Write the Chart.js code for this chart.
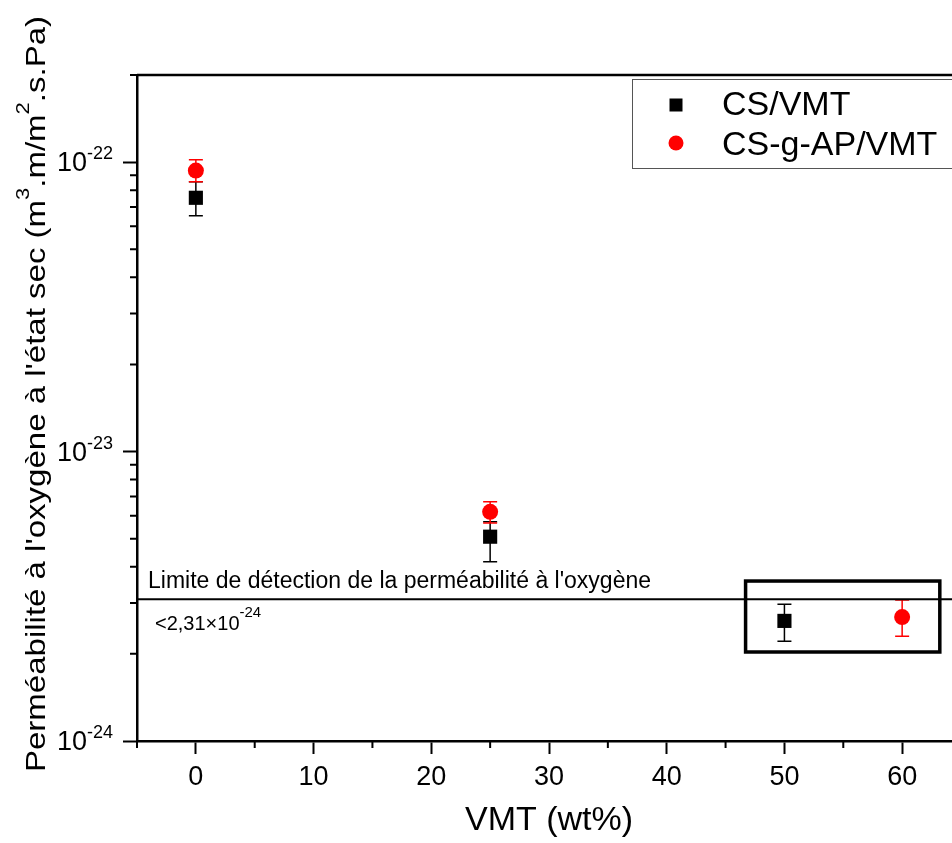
<!DOCTYPE html>
<html>
<head>
<meta charset="utf-8">
<title>Perméabilité à l'oxygène</title>
<script src="https://cdn.jsdelivr.net/npm/chart.js@4/dist/chart.umd.min.js"></script>
<style>
    html, body { margin: 0; padding: 0; background: #ffffff; overflow: hidden; }
    #wrap { position: relative; width: 952px; height: 843px; overflow: hidden; }
    canvas { display: block; }
</style>
</head>
<body>
<div id="wrap"><canvas id="perme_chart" width="975" height="843"></canvas></div>
<script>
// valeurs
const csVmtX = [0, 25, 50];
const csVmtY = [7.53e-23, 5.08e-24, 2.60e-24];
const csVmtHigh = [8.56e-23, 5.72e-24, 2.97e-24];
const csVmtLow = [6.53e-23, 4.16e-24, 2.21e-24];

const csgApX = [0, 25, 60];
const csgApY = [9.35e-23, 6.19e-24, 2.68e-24];
const csgApHigh = [1.02e-22, 6.71e-24, 3.07e-24];
const csgApLow = [8.56e-23, 5.67e-24, 2.30e-24];

const xTickValues = [0, 10, 20, 30, 40, 50, 60];
const xMinorValues = [-5, 5, 15, 25, 35, 45, 55, 65];
const yDecades = [1e-24, 1e-23, 1e-22];
const yDecadeLabels = [['10', '-24'], ['10', '-23'], ['10', '-22']];

const detectionLimit = 3.09e-24;
const detectionText = "Limite de détection de la perméabilité à l'oxygène";
const detectionValue = ['<2,31×10', '-24'];
const boxX = [46.7, 63.2];
const boxY = [2.03e-24, 3.57e-24];

const FONT = "'Liberation Sans', Arial, sans-serif";

// texte avec exposants : runs = [[texte, exposant?], ...]
function drawRuns(c, runs, x, y, size, supSize, raise, align) {
    let total = 0;
    const widths = runs.map(r => {
        c.font = (r[1] ? supSize : size) + 'px ' + FONT;
        const w = c.measureText(r[0]).width;
        total += w;
        return w;
    });
    let cx = x;
    if (align === 'center') cx = x - total / 2;
    if (align === 'right') cx = x - total;
    c.textAlign = 'left';
    c.textBaseline = 'alphabetic';
    runs.forEach((r, i) => {
        c.font = (r[1] ? supSize : size) + 'px ' + FONT;
        c.fillText(r[0], cx, r[1] ? y - raise : y);
        cx += widths[i];
    });
}

const decorations = {
    id: 'decorations',
    beforeDatasetsDraw(chart) {
        const c = chart.ctx;
        const xs = chart.scales.x, ys = chart.scales.y;
        chart.data.datasets.forEach(ds => {
            c.save();
            c.strokeStyle = ds.errColor;
            c.lineWidth = 1.5;
            ds.data.forEach((p, i) => {
                const px = xs.getPixelForValue(p.x);
                const top = ys.getPixelForValue(ds.errHigh[i]);
                const bot = ys.getPixelForValue(ds.errLow[i]);
                c.beginPath();
                c.moveTo(px, top); c.lineTo(px, bot);
                c.moveTo(px - 7, top); c.lineTo(px + 7, top);
                c.moveTo(px - 7, bot); c.lineTo(px + 7, bot);
                c.stroke();
            });
            c.restore();
        });
    },
    afterDraw(chart) {
        const c = chart.ctx;
        const a = chart.chartArea;
        const xs = chart.scales.x, ys = chart.scales.y;
        c.save();
        c.fillStyle = '#000';
        c.strokeStyle = '#000';

        // cadre haut
        c.lineWidth = 2.5;
        c.beginPath();
        c.moveTo(a.left, a.top); c.lineTo(a.right, a.top);
        c.stroke();

        // petites graduations
        c.lineWidth = 2;
        c.beginPath();
        xMinorValues.forEach(v => {
            const px = xs.getPixelForValue(v);
            c.moveTo(px, a.bottom); c.lineTo(px, a.bottom + 7);
        });
        yDecades.forEach(d => {
            for (let k = 2; k <= 9; k++) {
                const v = d * k;
                if (v > ys.max * 1.0001) continue;
                const py = ys.getPixelForValue(v);
                c.moveTo(a.left, py); c.lineTo(a.left - 7, py);
            }
        });
        c.stroke();

        // etiquettes de l'axe y
        yDecades.forEach((d, i) => {
            const py = ys.getPixelForValue(d);
            drawRuns(c, [[yDecadeLabels[i][0], false], [yDecadeLabels[i][1], true]],
                113, py + 9, 27, 18, 12, 'right');
        });

        // titre de l'axe y
        c.save();
        c.translate(45, 394);
        c.rotate(-Math.PI / 2);
        c.scale(1, 0.83);
        drawRuns(c, [["Perméabilité à l'oxygène à l'état sec (m", false], ['3', true],
            ['.m/m', false], ['2', true], ['.s.Pa)', false]], 0, 0, 33, 22, 19, 'center');
        c.restore();

        // limite de detection
        const ly = ys.getPixelForValue(detectionLimit);
        c.lineWidth = 2;
        c.beginPath();
        c.moveTo(a.left, ly); c.lineTo(a.right, ly);
        c.stroke();
        c.font = '23px ' + FONT;
        c.textAlign = 'left';
        c.textBaseline = 'alphabetic';
        c.fillText(detectionText, 148, ly - 11);
        drawRuns(c, [[detectionValue[0], false], [detectionValue[1], true]],
            155, ly + 31, 20, 15, 13, 'left');

        // cadre autour des points sous la limite
        const bx0 = xs.getPixelForValue(boxX[0]), bx1 = xs.getPixelForValue(boxX[1]);
        const by0 = ys.getPixelForValue(boxY[1]), by1 = ys.getPixelForValue(boxY[0]);
        c.lineWidth = 3.5;
        c.strokeRect(bx0, by0, bx1 - bx0, by1 - by0);

        // legende
        c.lineWidth = 1;
        c.strokeStyle = '#555';
        c.strokeRect(632.5, 79.5, 400, 89);
        c.fillStyle = '#000';
        c.fillRect(669.5, 98.5, 13, 13);
        c.fillStyle = '#ff0000';
        c.beginPath();
        c.arc(676, 143, 7.5, 0, Math.PI * 2);
        c.fill();
        c.fillStyle = '#000';
        c.font = '34px ' + FONT;
        c.fillText(chart.data.datasets[0].label, 722, 115);
        c.fillText(chart.data.datasets[1].label, 722, 155);
        c.restore();
    }
};

const ctx_perme = document.getElementById('perme_chart');
new Chart(ctx_perme, {
    type: 'scatter',
    data: {
        datasets: [
            {
                label: 'CS/VMT',
                data: csVmtX.map((x, i) => ({ x: x, y: csVmtY[i] })),
                errHigh: csVmtHigh,
                errLow: csVmtLow,
                errColor: '#000000',
                pointStyle: 'rect',
                pointRadius: 10,
                backgroundColor: '#000000',
                borderWidth: 0,
                order: 2
            },
            {
                label: 'CS-g-AP/VMT',
                data: csgApX.map((x, i) => ({ x: x, y: csgApY[i] })),
                errHigh: csgApHigh,
                errLow: csgApLow,
                errColor: '#ff0000',
                pointStyle: 'circle',
                pointRadius: 8,
                backgroundColor: '#ff0000',
                borderWidth: 0,
                order: 1
            }
        ]
    },
    options: {
        responsive: false,
        animation: false,
        layout: { padding: { top: 75, right: 14, left: 0, bottom: 0 } },
        plugins: {
            legend: { display: false },
            tooltip: { enabled: false }
        },
        scales: {
            x: {
                type: 'linear',
                min: -5,
                max: 65,
                afterBuildTicks: s => { s.ticks = xTickValues.map(v => ({ value: v })); },
                afterFit: s => { s.height = 102; },
                grid: { drawOnChartArea: false, tickLength: 13, tickWidth: 2, tickColor: '#000' },
                border: { color: '#000', width: 2.5 },
                ticks: { color: '#000', font: { family: FONT, size: 27 }, padding: 7, maxRotation: 0 },
                title: {
                    display: true,
                    text: 'VMT (wt%)',
                    color: '#000',
                    font: { family: FONT, size: 34 },
                    padding: { top: 0, bottom: 2 }
                }
            },
            y: {
                type: 'logarithmic',
                min: 1e-24,
                max: 2e-22,
                afterBuildTicks: s => { s.ticks = yDecades.map(v => ({ value: v })); },
                afterFit: s => { s.width = 137; },
                grid: { drawOnChartArea: false, tickLength: 14, tickWidth: 2, tickColor: '#000' },
                border: { color: '#000', width: 2.5 },
                ticks: { callback: () => '', padding: 0 }
            }
        }
    },
    plugins: [decorations]
});
</script>
</body>
</html>
